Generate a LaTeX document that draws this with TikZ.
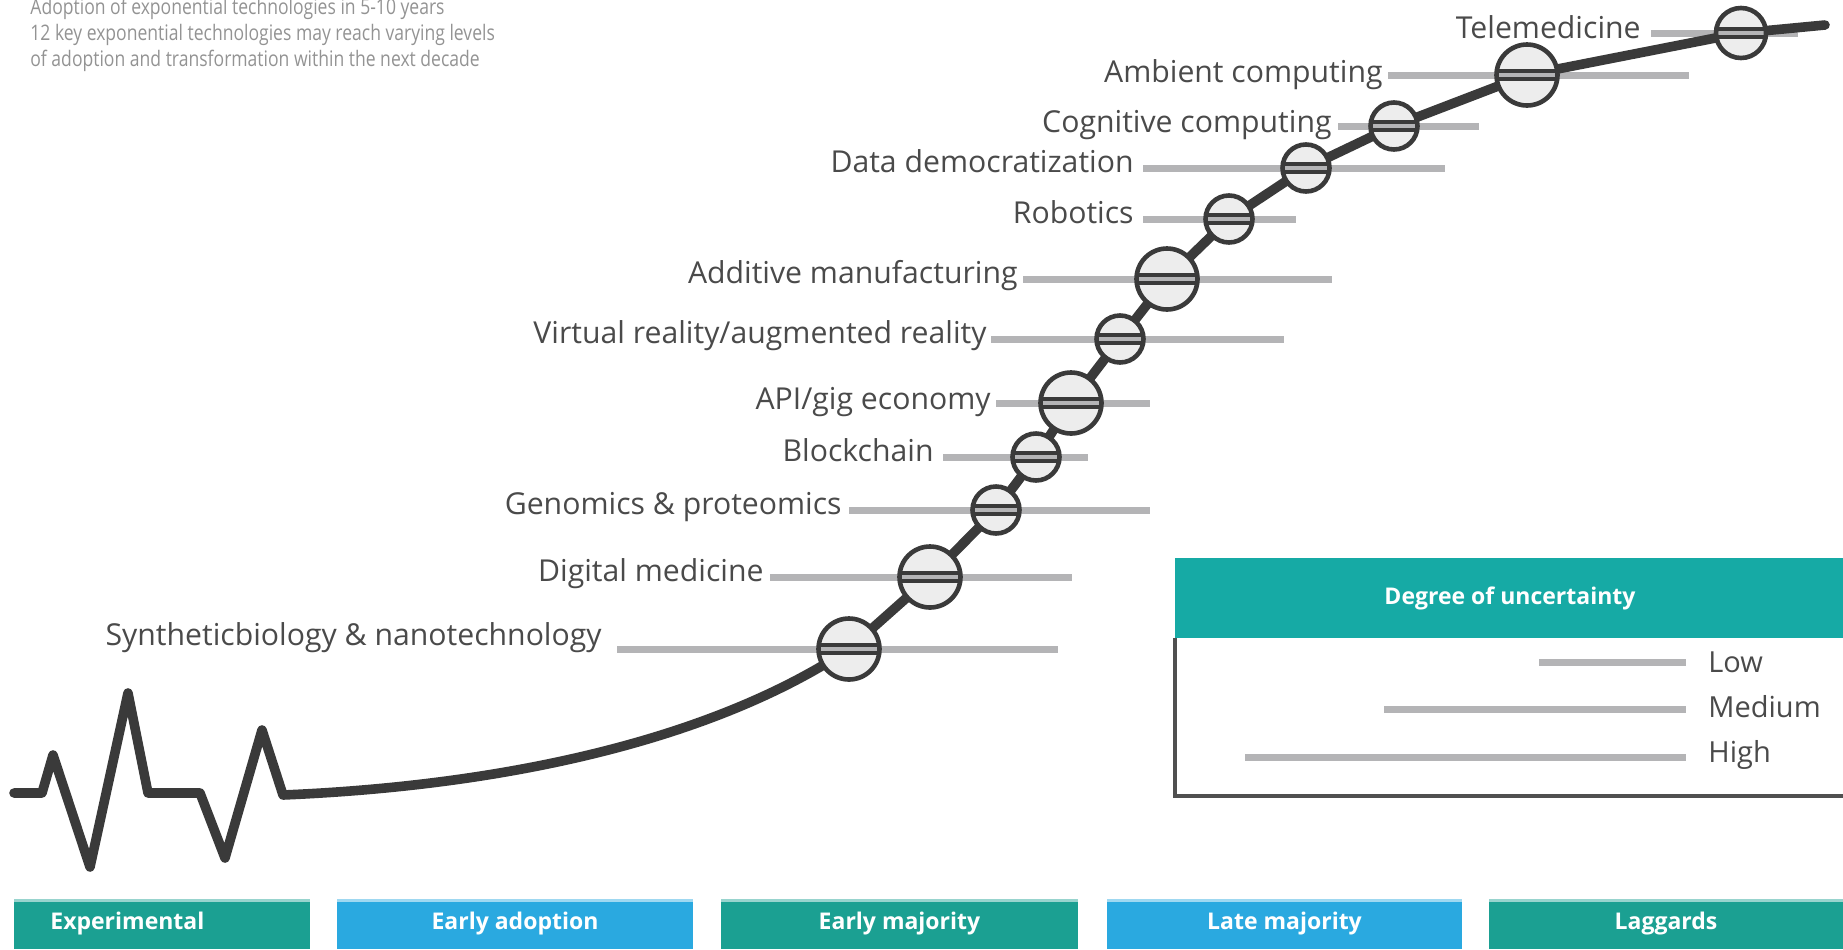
\documentclass[tikz,border=0pt]{standalone}
\usepackage{fontspec}
\setmainfont{Open Sans}
\newfontfamily\headingfont{Open Sans}[FakeStretch=0.82]
\usetikzlibrary{calc}

\definecolor{curvegray}{HTML}{3A3A3A}
\definecolor{discfill}{HTML}{EDEDED}
\definecolor{bargray}{HTML}{B4B4B6}
\definecolor{labelgray}{HTML}{4A4A4A}
\definecolor{titlegray}{HTML}{939393}
\definecolor{headteal}{HTML}{16AAA5}
\definecolor{stageteal}{HTML}{1BA092}
\definecolor{stageblue}{HTML}{2AA9E0}
\definecolor{framegray}{HTML}{505050}

\tikzset{
  curveline/.style={draw=curvegray, line width=4.8pt, line join=round, line cap=round},
  barline/.style={draw=bargray, line width=3.5pt},
  disc/.style={circle, draw=curvegray, line width=2.3pt, fill=discfill, inner sep=0pt,
    path picture={
      \fill[curvegray] ([yshift=2.8pt]path picture bounding box.west) rectangle ([yshift=-2.8pt]path picture bounding box.east);
      \fill[bargray] ([yshift=1pt]path picture bounding box.west) rectangle ([yshift=-1pt]path picture bounding box.east);
    }},
  bigdisc/.style={disc, minimum size=30.5pt},
  middisc/.style={disc, minimum size=25pt},
  smalldisc/.style={disc, minimum size=23.5pt},
  techlabel/.style={anchor=base east, inner sep=0pt, text=labelgray, font=\fontsize{15.1}{15.1}\selectfont},
  titleline/.style={anchor=base west, inner sep=0pt, text=titlegray, font=\headingfont\fontsize{10.7}{10.7}\selectfont},
  legendtext/.style={anchor=base west, inner sep=0pt, text=labelgray, font=\fontsize{14.5}{14.5}\selectfont},
  stagetext/.style={inner sep=0pt, text=white, font=\bfseries\fontsize{11.5}{11.5}\selectfont},
}

\begin{document}
\begin{tikzpicture}[x=0.5pt, y=-0.5pt]
\useasboundingbox (0,0) rectangle (1843,949);

% heading
\node[titleline] (t1) at (30,14) {Adoption of exponential technologies in 5-10 years};
\node[titleline] (t2) at (30,40) {12 key exponential technologies may reach varying levels};
\node[titleline] (t3) at (30,66) {of adoption and transformation within the next decade};

% positions of the technologies on the adoption curve
\coordinate (p1) at (849,649);
\coordinate (p2) at (930,577);
\coordinate (p3) at (996,510);
\coordinate (p4) at (1036,457);
\coordinate (p5) at (1071,403);
\coordinate (p6) at (1120,339);
\coordinate (p7) at (1167,279);
\coordinate (p8) at (1229,219);
\coordinate (p9) at (1306,168);
\coordinate (p10) at (1394,126);
\coordinate (p11) at (1527,75);
\coordinate (p12) at (1741,33);
\coordinate (hbstart) at (14,793);
\coordinate (hbend) at (283,795);
\coordinate (curveend) at (1825,25);

% uncertainty ranges
\draw[barline] (617,649) -- (1058,649);
\draw[barline] (770,577) -- (1072,577);
\draw[barline] (849,510) -- (1150,510);
\draw[barline] (943,457) -- (1088,457);
\draw[barline] (996,403) -- (1150,403);
\draw[barline] (991,339) -- (1284,339);
\draw[barline] (1023,279) -- (1332,279);
\draw[barline] (1143,219) -- (1296,219);
\draw[barline] (1143,168) -- (1445,168);
\draw[barline] (1338,126) -- (1479,126);
\draw[barline] (1388,75) -- (1689,75);
\draw[barline] (1651,33) -- (1798,33);

% heartbeat followed by the adoption curve
\draw[curveline] (hbstart) -- (42,793) -- (53,755) -- (90,867) -- (128,693) -- (148,793)
  -- (200,793) -- (225,858) -- (262,730) -- (hbend)
  .. controls (520,785) and (720,735) .. (p1)
  -- (p2) -- (p3) -- (p4) -- (p5) -- (p6) -- (p7) -- (p8) -- (p9) -- (p10) -- (p11) -- (p12) -- (curveend);

% technology markers
\node[bigdisc] (c1) at (p1) {};
\node[bigdisc] (c2) at (p2) {};
\node[smalldisc] (c3) at (p3) {};
\node[smalldisc] (c4) at (p4) {};
\node[bigdisc] (c5) at (p5) {};
\node[smalldisc] (c6) at (p6) {};
\node[bigdisc] (c7) at (p7) {};
\node[smalldisc] (c8) at (p8) {};
\node[smalldisc] (c9) at (p9) {};
\node[smalldisc] (c10) at (p10) {};
\node[bigdisc] (c11) at (p11) {};
\node[middisc] (c12) at (p12) {};

% technology names
\node[techlabel] (l1) at (602,645) {Syntheticbiology \& nanotechnology};
\node[techlabel] (l2) at (764,581) {Digital medicine};
\node[techlabel] (l3) at (842,514) {Genomics \& proteomics};
\node[techlabel] (l4) at (934,461) {Blockchain};
\node[techlabel] (l5) at (991,409) {API/gig economy};
\node[techlabel] (l6) at (987,343) {Virtual reality/augmented reality};
\node[techlabel] (l7) at (1018,283) {Additive manufacturing};
\node[techlabel] (l8) at (1134,223) {Robotics};
\node[techlabel] (l9) at (1134,172) {Data democratization};
\node[techlabel] (l10) at (1332,132) {Cognitive computing};
\node[techlabel] (l11) at (1383,82) {Ambient computing};
\node[techlabel] (l12) at (1641,38) {Telemedicine};

% legend
\fill[headteal] (1175,558) rectangle (1843,638);
\node[stagetext] (lhead) at (1510,598) {Degree of uncertainty};
\draw[draw=framegray, line width=1.6pt] (1175,638) -- (1175,796) -- (1843,796);
\draw[barline] (1539,662) -- (1686,662);
\draw[barline] (1384,709) -- (1686,709);
\draw[barline] (1245,757) -- (1686,757);
\node[legendtext] (llow) at (1708,672) {Low};
\node[legendtext] (lmed) at (1708,717) {Medium};
\node[legendtext] (lhigh) at (1708,762) {High};

% adoption stages
\fill[stageteal] (14,899) rectangle (310,949);
\fill[stageblue] (337,899) rectangle (693,949);
\fill[stageteal] (721,899) rectangle (1078,949);
\fill[stageblue] (1107,899) rectangle (1462,949);
\fill[stageteal] (1489,899) rectangle (1843,949);
\foreach \a/\b/\c in {14/310/stageteal, 337/693/stageblue, 721/1078/stageteal, 1107/1462/stageblue, 1489/1843/stageteal}
  \fill[\c!45!white] (\a,899) rectangle (\b,901.5);
\node[stagetext, anchor=west] (s1) at (50,924) {Experimental};
\node[stagetext] (s2) at (515,924) {Early adoption};
\node[stagetext] (s3) at (899.5,924) {Early majority};
\node[stagetext] (s4) at (1284.5,924) {Late majority};
\node[stagetext] (s5) at (1666,924) {Laggards};
\end{tikzpicture}
\end{document}
